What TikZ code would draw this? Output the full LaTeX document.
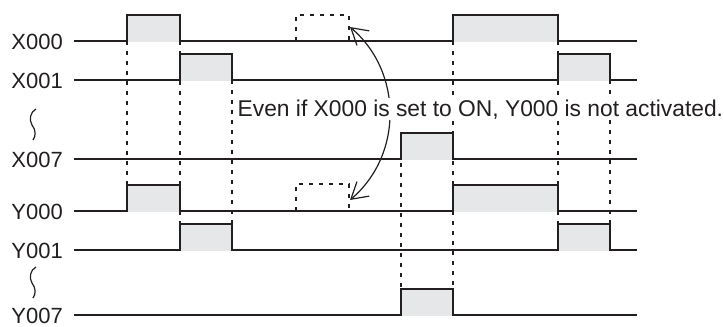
\documentclass[tikz,border=0pt]{standalone}
\usepackage{fontspec}
\setmainfont{Liberation Sans}
\usetikzlibrary{positioning, arrows.meta}
\definecolor{tdInk}{HTML}{231F20}
\definecolor{tdOn}{HTML}{E6E7E8}

\begin{document}
\begin{tikzpicture}[x=1pt, y=-1pt,
    signal/.style={line width=2pt, color=tdInk, line cap=rect},
    guide/.style={line width=2pt, color=tdInk, dash pattern=on 4pt off 6pt},
    squig/.style={line width=1.2pt, color=tdInk},
    lbl/.style={font=\fontsize{22}{25}\selectfont, text=tdInk, inner sep=0pt},
    note/.style={font=\fontsize{22.8}{26}\selectfont, text=tdInk, fill=white, inner sep=1.5pt}]
  \useasboundingbox (0,0) rectangle (724,327);
  % Hilfslinien (gestrichelt): x/von/bis
  \foreach \x/\a/\b in {127/41/184, 180/41/224, 232/80/224, 401/133/289,
                        453/41/289, 558/41/224, 610/80/224}
    \draw[guide] (\x,\a) -- (\x,\b);
  % nicht ausgefuehrte Impulse
  \draw[guide] (296,41) |- (349,15) -- (349,41);
  \draw[guide] (296,211) |- (349,184) -- (349,211);
  % Zeilen: Name/Grundlinie
  \foreach \n/\y in {X000/41, X001/80, X007/159, Y000/211, Y001/250, Y007/315} {
    \coordinate (s\n) at (75,\y);
    \coordinate (e\n) at (636,\y);
    \node[lbl, left=12pt of s\n, yshift=-1pt] (l\n) {\n};
    \draw[signal] (s\n) -- (e\n);
  }
  % Impulse: Grundlinie/Anfang/Ende, Hoehe 26
  \foreach \y/\a/\b in {41/127/180, 41/453/558, 80/180/232, 80/558/610,
                        159/401/453, 211/127/180, 211/453/558, 250/180/232,
                        250/558/610, 315/401/453} {
    \fill[tdOn] (\a,\y+1) rectangle (\b,\y-26);
    \draw[signal] (\a,\y) |- (\b,\y-26) -- (\b,\y);
  }
  % Auslassungszeichen
  \foreach \s in {0,158}
    \draw[squig, shift={(0,\s)}] (36,109) .. controls (30,112) and (29,120) .. (32,125)
      .. controls (36,130) and (36,136) .. (33,140);
  % Pfeil zwischen den beiden Impulsen
  \coordinate (ghostX) at (350,27);
  \coordinate (ghostY) at (350,200);
  \draw[line width=1.2pt, color=tdInk,
        {Straight Barb[length=16pt, width=19pt]}-{Straight Barb[length=16pt, width=19pt]}]
    (ghostX) .. controls +(53,45) and +(53,-45) .. (ghostY);
  \node[note, anchor=base west] (hint) at (236,116)
    {Even if X000 is set to ON, Y000 is not activated.};
\end{tikzpicture}
\end{document}
